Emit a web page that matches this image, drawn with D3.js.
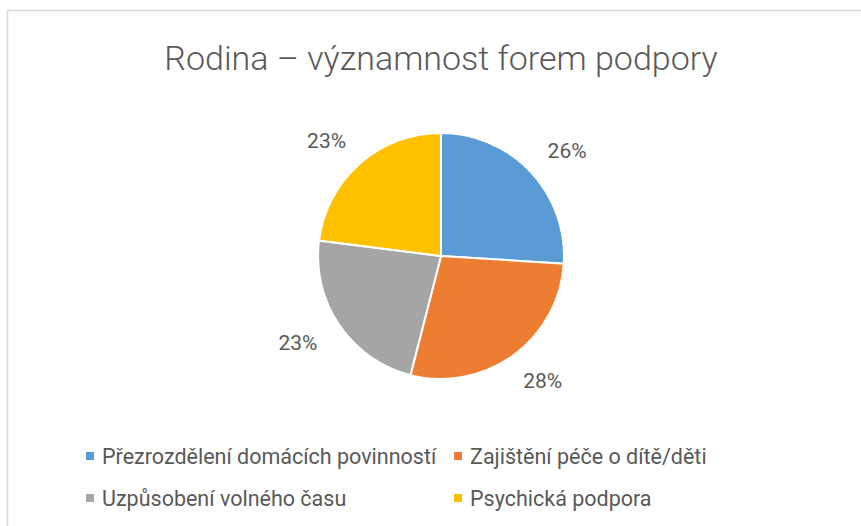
<!DOCTYPE html>
<html>
<head>
<meta charset="utf-8">
<script src="https://cdn.jsdelivr.net/npm/d3@7"></script>
<style>
  body { margin: 0; background: #fff; }
  text { font-family: Roboto, "Noto Sans", sans-serif; fill: #595959; }
</style>
</head>
<body>
<div id="chart-container"></div>
<script>
// Data
const categories = [
  "Přezrozdělení domácích povinností",
  "Zajištění péče o dítě/děti",
  "Uzpůsobení volného času",
  "Psychická podpora"
];
const values = [26, 28, 23, 23];
const colors = ["#5B9BD5", "#ED7D31", "#A5A5A5", "#FFC000"];

const width = 861, height = 526;
const cx = 441, cy = 256, radius = 123;
// labels sit outside the pie, a bit further out left/right (wider boxes)
const labelRx = 173, labelRy = 154;

const svg = d3.select("#chart-container")
  .append("svg")
  .attr("width", width)
  .attr("height", height);

// chart frame (right/bottom edges fall outside the picture)
svg.append("rect")
  .attr("x", 7.5).attr("y", 10.5)
  .attr("width", 900).attr("height", 600)
  .attr("fill", "none")
  .attr("stroke", "#d9d9d9")
  .attr("stroke-width", 1.5);

// Title
svg.append("text")
  .attr("x", 441)
  .attr("y", 70)
  .attr("text-anchor", "middle")
  .style("font-size", "34px")
  .style("font-weight", 300)
  .text("Rodina – významnost forem podpory");

const pie = d3.pie().sort(null).value(d => d);
const arcs = pie(values);
const arc = d3.arc().innerRadius(0).outerRadius(radius);

const g = svg.append("g").attr("transform", `translate(${cx},${cy})`);

g.selectAll("path")
  .data(arcs)
  .enter().append("path")
  .attr("d", arc)
  .attr("fill", (d, i) => colors[i])
  .attr("stroke", "#fff")
  .attr("stroke-width", 2);

const total = d3.sum(values);
const mid = d => (d.startAngle + d.endAngle) / 2;
g.selectAll(".label")
  .data(arcs)
  .enter().append("text")
  .attr("class", "label")
  .attr("x", d => labelRx * Math.sin(mid(d)))
  .attr("y", d => -labelRy * Math.cos(mid(d)))
  .attr("text-anchor", "middle")
  .attr("dy", "0.36em")
  .style("font-size", "21px")
  .text(d => Math.round(d.value / total * 100) + "%");

// Legend
const legendX = [86, 454];
const legendY = [456, 498];
const legend = svg.selectAll(".legend")
  .data(categories)
  .enter().append("g")
  .attr("class", "legend")
  .attr("transform", (d, i) => `translate(${legendX[i % 2]},${legendY[Math.floor(i / 2)]})`);

legend.append("rect")
  .attr("x", 0).attr("y", -4)
  .attr("width", 8).attr("height", 8)
  .attr("fill", (d, i) => colors[i]);

legend.append("text")
  .attr("x", 16)
  .attr("dy", "0.36em")
  .style("font-size", "21.5px")
  .text(d => d);
</script>
</body>
</html>
